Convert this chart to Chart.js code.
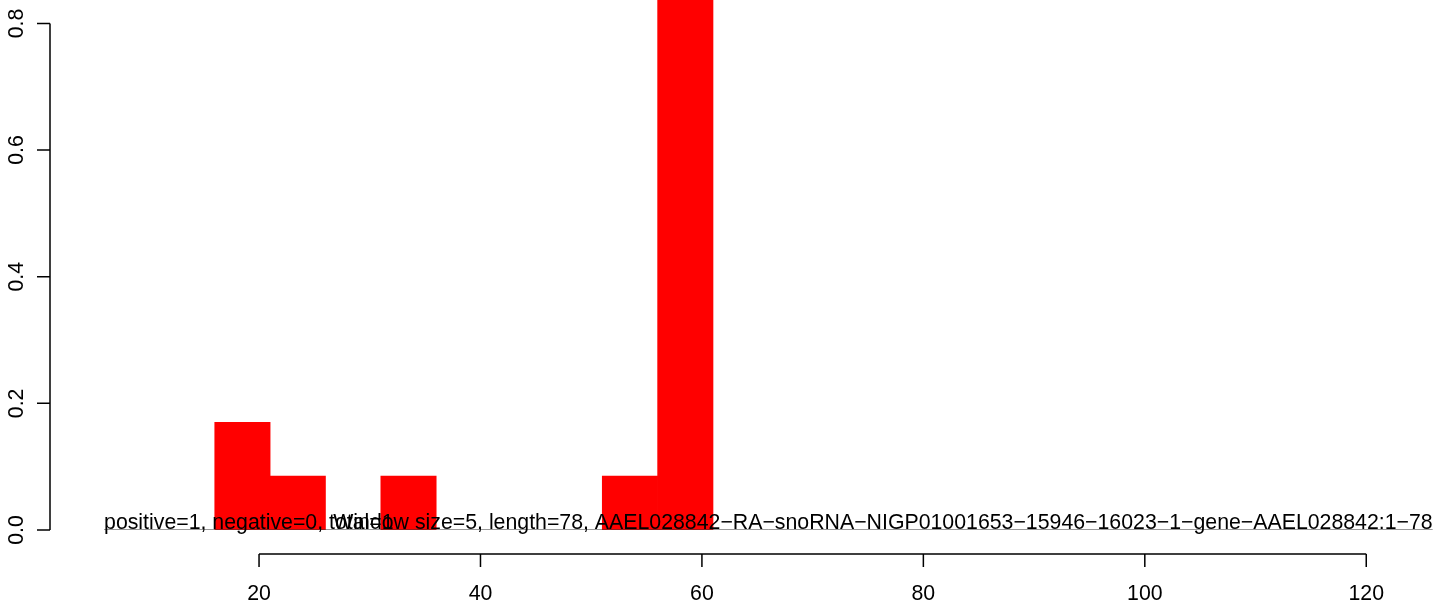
<!DOCTYPE html>
<html>
<head>
<meta charset="utf-8">
<script src="https://cdn.jsdelivr.net/npm/chart.js@4/dist/chart.umd.min.js"></script>
<style>
  html, body { margin: 0; padding: 0; background: #fff; }
  #wrap { width: 1436px; height: 605px; position: relative; }
</style>
</head>
<body>
<div id="wrap"><canvas id="hist"></canvas></div>
<script>
  // histogram bins (mid points) and heights
  const binMids = [18.5, 23.5, 33.5, 53.5, 58.5];
  const binValues = [0.17, 0.085, 0.085, 0.085, 1.0];
  // full range of bins (empty ones draw only as baseline)
  const binRange = [6, 126];
  const xTicks = [20, 40, 60, 80, 100, 120];
  const yTicks = [0, 0.2, 0.4, 0.6, 0.8];
  const yTickLabels = ['0.0', '0.2', '0.4', '0.6', '0.8'];
  const noteLeft = 'positive=1, negative=0, total=1';
  const noteRight = 'Window size=5, length=78, AAEL028842\u2212RA\u2212snoRNA\u2212NIGP01001653\u221215946\u221216023\u22121\u2212gene\u2212AAEL028842:1\u221278';

  const FONT = '21.3px "Liberation Sans", Arial, sans-serif';

  // ── R style axes + texts ─────────────────────────────────
  const rAxes = {
    id: 'rAxes',
    afterDraw(chart) {
      const { ctx, scales: { x, y } } = chart;
      ctx.save();
      ctx.strokeStyle = '#000';
      ctx.fillStyle = '#000';
      ctx.lineWidth = 1.5;
      ctx.font = FONT;

      // left axis
      const ax = 50;
      ctx.beginPath();
      ctx.moveTo(ax, y.getPixelForValue(yTicks[0]));
      ctx.lineTo(ax, y.getPixelForValue(yTicks[yTicks.length - 1]));
      yTicks.forEach(v => {
        const py = y.getPixelForValue(v);
        ctx.moveTo(ax, py);
        ctx.lineTo(ax - 13, py);
      });
      ctx.stroke();
      yTicks.forEach((v, i) => {
        const py = y.getPixelForValue(v);
        ctx.save();
        ctx.translate(23, py);
        ctx.rotate(-Math.PI / 2);
        ctx.textAlign = 'center';
        ctx.textBaseline = 'alphabetic';
        ctx.fillText(yTickLabels[i], 0, 0);
        ctx.restore();
      });

      // bottom axis
      const ay = 554;
      ctx.beginPath();
      ctx.moveTo(x.getPixelForValue(xTicks[0]), ay);
      ctx.lineTo(x.getPixelForValue(xTicks[xTicks.length - 1]), ay);
      xTicks.forEach(v => {
        const px = x.getPixelForValue(v);
        ctx.moveTo(px, ay);
        ctx.lineTo(px, ay + 13);
      });
      ctx.stroke();
      ctx.textAlign = 'center';
      ctx.textBaseline = 'alphabetic';
      xTicks.forEach(v => ctx.fillText(String(v), x.getPixelForValue(v), 600));

      // overlapping notes on the baseline
      const by = y.getPixelForValue(0) - 1;
      ctx.textAlign = 'left';
      ctx.fillText(noteLeft, x.getPixelForValue(binRange[0]), by);
      ctx.textAlign = 'right';
      ctx.fillText(noteRight, x.getPixelForValue(binRange[1]), by);
      ctx.restore();
    }
  };

  new Chart(document.getElementById('hist'), {
    data: {
      datasets: [
        {
          type: 'line',
          data: binRange.map(v => ({ x: v, y: 0 })),
          borderColor: '#333',
          borderWidth: 1,
          pointRadius: 0,
          order: 0
        },
        {
          type: 'bar',
          data: binMids.map((m, i) => ({ x: m, y: binValues[i] })),
          backgroundColor: '#ff0000',
          borderWidth: 0,
          barPercentage: 1,
          categoryPercentage: 1,
          order: 1
        }
      ]
    },
    options: {
      responsive: true,
      maintainAspectRatio: false,
      animation: false,
      events: [],
      layout: { padding: { left: 37.6, right: 0, top: 0, bottom: 75 } },
      plugins: { legend: { display: false }, tooltip: { enabled: false } },
      scales: {
        x: { type: 'linear', min: 0, max: 126.3, offset: false, display: false },
        y: { min: 0, max: 0.837, display: false }
      }
    },
    plugins: [rAxes]
  });
</script>
</body>
</html>
